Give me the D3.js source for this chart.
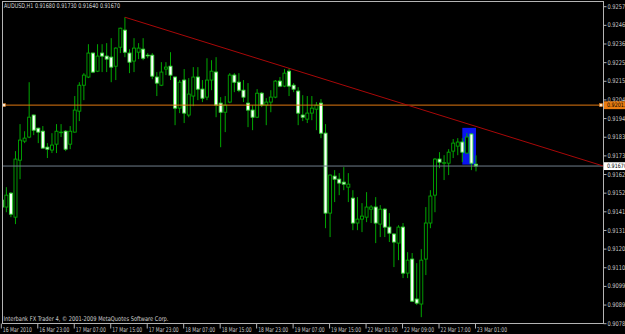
<!DOCTYPE html>
<html>
<head>
<meta charset="utf-8">
<script src="https://cdn.jsdelivr.net/npm/d3@7"></script>
<style>
    body { margin: 0; background: #000; }
    #chart-area { width: 625px; height: 334px; }
</style>
</head>
<body>
<div id="chart-area"></div>
<script>

// hourly bars, index 0 = 16 Mar 15:00
const timeLabels = ["16 Mar 2010", "16 Mar 23:00", "17 Mar 07:00", "17 Mar 15:00", "17 Mar 23:00", "18 Mar 07:00",
    "18 Mar 15:00", "18 Mar 23:00", "19 Mar 07:00", "19 Mar 15:00", "22 Mar 01:00", "22 Mar 09:00", "22 Mar 17:00", "23 Mar 01:00"];
const labelBars = [0, 8, 16, 24, 32, 40, 48, 56, 64, 72, 80, 88, 96, 104];

const priceTicks = [0.92570, 0.92465, 0.92360, 0.92255, 0.92150, 0.92045, 0.91940, 0.91835, 0.91730,
    0.91625, 0.91520, 0.91415, 0.91310, 0.91205, 0.91100, 0.90995, 0.90890, 0.90785];

const opens = [0.91478, 0.91439, 0.91517, 0.91382, 0.91703, 0.91810, 0.91833, 0.91957, 0.91883, 0.91866,
    0.91776, 0.91760, 0.91793, 0.91858, 0.91866, 0.91793, 0.91861, 0.91979, 0.92125, 0.92171,
    0.92306, 0.92204, 0.92306, 0.92289, 0.92283, 0.92232, 0.92339, 0.92435, 0.92306, 0.92261,
    0.92311, 0.92328, 0.92294, 0.92294, 0.92171, 0.92125, 0.92216, 0.92232, 0.92171, 0.91996,
    0.92154, 0.91957, 0.92064, 0.92171, 0.92103, 0.92058, 0.92154, 0.92199, 0.92024, 0.91973,
    0.92030, 0.92182, 0.92142, 0.92097, 0.92024, 0.91985, 0.91945, 0.92080, 0.92013, 0.92030,
    0.92058, 0.92148, 0.92120, 0.92204, 0.92125, 0.92092, 0.91957, 0.91934, 0.91968, 0.91990,
    0.92024, 0.91855, 0.91405, 0.91613, 0.91596, 0.91579, 0.91551, 0.91489, 0.91349, 0.91371,
    0.91382, 0.91427, 0.91439, 0.91343, 0.91427, 0.91326, 0.91287, 0.91236, 0.91326, 0.91067,
    0.91146, 0.90921, 0.90893, 0.91146, 0.91349, 0.91506, 0.91709, 0.91686, 0.91686, 0.91754,
    0.91782, 0.91805, 0.91743, 0.91850, 0.91680];
const highs = [0.91523, 0.91551, 0.91523, 0.91754, 0.91906, 0.91866, 0.92142, 0.91960, 0.91886, 0.91895,
    0.91799, 0.91855, 0.91906, 0.91906, 0.91872, 0.91895, 0.92064, 0.92142, 0.92193, 0.92356,
    0.92309, 0.92356, 0.92356, 0.92362, 0.92390, 0.92339, 0.92449, 0.92508, 0.92328, 0.92390,
    0.92362, 0.92390, 0.92306, 0.92306, 0.92199, 0.92255, 0.92255, 0.92311, 0.92174, 0.92154,
    0.92216, 0.92165, 0.92227, 0.92227, 0.92154, 0.92277, 0.92266, 0.92283, 0.92058, 0.92064,
    0.92193, 0.92193, 0.92193, 0.92154, 0.92137, 0.92013, 0.92103, 0.92086, 0.92052, 0.92097,
    0.92154, 0.92171, 0.92216, 0.92221, 0.92137, 0.92114, 0.92069, 0.92064, 0.92064, 0.92030,
    0.92047, 0.91906, 0.91622, 0.91647, 0.91630, 0.91664, 0.91630, 0.91534, 0.91495, 0.91461,
    0.91523, 0.91450, 0.91495, 0.91450, 0.91433, 0.91405, 0.91292, 0.91337, 0.91349, 0.91185,
    0.91180, 0.91123, 0.91202, 0.91439, 0.91534, 0.91715, 0.91748, 0.91731, 0.91765, 0.91822,
    0.91827, 0.91827, 0.91855, 0.91855, 0.91730];
const lows = [0.91315, 0.91410, 0.91382, 0.91343, 0.91596, 0.91799, 0.91827, 0.91844, 0.91799, 0.91768,
    0.91715, 0.91743, 0.91743, 0.91833, 0.91754, 0.91765, 0.91858, 0.91923, 0.92041, 0.92165,
    0.92193, 0.92199, 0.92199, 0.92199, 0.92142, 0.92154, 0.92306, 0.92283, 0.92193, 0.92199,
    0.92272, 0.92266, 0.92277, 0.92159, 0.92064, 0.92120, 0.92182, 0.92154, 0.91900, 0.91968,
    0.91912, 0.91945, 0.92007, 0.92041, 0.92030, 0.92041, 0.92097, 0.91945, 0.91776, 0.91861,
    0.92024, 0.92086, 0.92086, 0.92030, 0.91889, 0.91872, 0.91940, 0.92002, 0.91900, 0.91973,
    0.92052, 0.92114, 0.92114, 0.92064, 0.92086, 0.91900, 0.91923, 0.91912, 0.91928, 0.91872,
    0.91827, 0.91320, 0.91270, 0.91467, 0.91506, 0.91534, 0.91467, 0.91309, 0.91309, 0.91298,
    0.91354, 0.91349, 0.91236, 0.91270, 0.91270, 0.91242, 0.91101, 0.91140, 0.91039, 0.91039,
    0.90904, 0.90887, 0.90819, 0.91056, 0.91320, 0.91410, 0.91658, 0.91591, 0.91619, 0.91715,
    0.91731, 0.91692, 0.91740, 0.91647, 0.91640];
const closes = [0.91439, 0.91506, 0.91399, 0.91709, 0.91816, 0.91827, 0.91945, 0.91872, 0.91861, 0.91771,
    0.91765, 0.91788, 0.91866, 0.91861, 0.91765, 0.91866, 0.91985, 0.92125, 0.92182, 0.92306,
    0.92199, 0.92289, 0.92289, 0.92272, 0.92227, 0.92334, 0.92446, 0.92311, 0.92255, 0.92334,
    0.92334, 0.92277, 0.92293, 0.92176, 0.92137, 0.92199, 0.92227, 0.92182, 0.91996, 0.92142,
    0.91968, 0.92075, 0.92171, 0.92103, 0.92052, 0.92154, 0.92204, 0.92013, 0.91973, 0.92013,
    0.92182, 0.92142, 0.92097, 0.92058, 0.91985, 0.91945, 0.92080, 0.92013, 0.92030, 0.92058,
    0.92148, 0.92120, 0.92193, 0.92120, 0.92103, 0.91968, 0.91945, 0.91968, 0.91996, 0.92013,
    0.91855, 0.91405, 0.91619, 0.91596, 0.91574, 0.91568, 0.91568, 0.91349, 0.91371, 0.91388,
    0.91439, 0.91439, 0.91349, 0.91427, 0.91326, 0.91292, 0.91242, 0.91326, 0.91067, 0.91140,
    0.90909, 0.90898, 0.91140, 0.91349, 0.91501, 0.91709, 0.91692, 0.91689, 0.91748, 0.91799,
    0.91805, 0.91748, 0.91833, 0.91686, 0.91670];

// chart objects
const trendBars = [27, 104];
const trendPrices = [0.92508, 0.91893];
const hlinePrice = 0.92013;
const bidPrice = 0.91670;
const boxBars = [101, 104];
const boxPrices = [0.91885, 0.91678];

const titleText = "AUDUSD,H1  0.91680 0.91730 0.91640 0.91670";
const footerText = "Interbank FX Trader 4, \u00a9 2001-2009 MetaQuotes Software Corp.";

class CandleChart {

    constructor(parentElement) {
        this.parentElement = parentElement;
        this.initVis();
    }

    initVis() {
        let vis = this;

        vis.width = 625;
        vis.height = 334;
        vis.plot = {left: 2, right: 603, top: 1, bottom: 323};
        vis.font = "'DejaVu Sans Condensed', 'DejaVu Sans', sans-serif";

        vis.svg = d3.select("#" + vis.parentElement).append("svg")
            .attr("width", vis.width)
            .attr("height", vis.height);

        vis.svg.append("rect")
            .attr("width", vis.width)
            .attr("height", vis.height)
            .attr("fill", "#000");

        vis.svg.append("clipPath").attr("id", "plot-clip")
            .append("rect")
            .attr("x", vis.plot.left)
            .attr("y", vis.plot.top)
            .attr("width", vis.plot.right - vis.plot.left)
            .attr("height", vis.plot.bottom - vis.plot.top);

        // bar index -> x, price -> y
        vis.x = d3.scaleLinear()
            .domain([0, 104])
            .range([1.8, 476]);

        vis.y = d3.scaleLinear()
            .domain([0.90785, 0.92570])
            .range([323.2, 6.2]);

        vis.yAxis = d3.axisRight(vis.y)
            .tickValues(priceTicks)
            .tickFormat(d3.format(".5f"))
            .tickSize(3)
            .tickSizeOuter(0);

        vis.xAxis = d3.axisBottom(vis.x)
            .tickValues(labelBars)
            .tickFormat((d, i) => timeLabels[i])
            .tickSize(5)
            .tickSizeOuter(0);

        vis.chart = vis.svg.append("g").attr("clip-path", "url(#plot-clip)");

        vis.wrangleData();
    }

    wrangleData() {
        let vis = this;

        vis.bars = opens.map((o, i) => ({
            i: i, open: o, high: highs[i], low: lows[i], close: closes[i]
        }));

        // extend trendline as a ray to the right edge
        let endBar = vis.x.invert(vis.plot.right);
        let slope = (trendPrices[1] - trendPrices[0]) / (trendBars[1] - trendBars[0]);
        vis.trend = [
            {bar: trendBars[0], price: trendPrices[0]},
            {bar: endBar, price: trendPrices[0] + (endBar - trendBars[0]) * slope}
        ];

        vis.updateVis();
    }

    updateVis() {
        let vis = this;

        // background rectangle object
        vis.chart.append("rect")
            .attr("x", vis.x(boxBars[0]))
            .attr("y", vis.y(boxPrices[0]))
            .attr("width", vis.x(boxBars[1]) - vis.x(boxBars[0]))
            .attr("height", vis.y(boxPrices[1]) - vis.y(boxPrices[0]))
            .attr("fill", "#0a14f0");

        let candles = vis.chart.append("g").selectAll(".candle")
            .data(vis.bars)
            .enter()
            .append("g")
            .attr("class", "candle");

        candles.append("line")
            .attr("x1", d => vis.x(d.i))
            .attr("x2", d => vis.x(d.i))
            .attr("y1", d => vis.y(d.high))
            .attr("y2", d => vis.y(d.low))
            .attr("stroke", "#00a800")
            .attr("stroke-width", 1);

        candles.append("rect")
            .attr("x", d => vis.x(d.i) - 1.5)
            .attr("width", 3)
            .attr("y", d => vis.y(Math.max(d.open, d.close)))
            .attr("height", d => Math.max(0.6, Math.abs(vis.y(d.open) - vis.y(d.close))))
            .attr("fill", d => d.close > d.open ? "#000" : "#fff")
            .attr("stroke", d => d.close > d.open ? "#00a800" : "#3ee03e")
            .attr("stroke-width", 0.9);

        // horizontal line (selected)
        vis.chart.append("line")
            .attr("x1", vis.plot.left)
            .attr("x2", vis.plot.right)
            .attr("y1", vis.y(hlinePrice))
            .attr("y2", vis.y(hlinePrice))
            .attr("stroke", "#e07810")
            .attr("stroke-width", 1);

        // bid line
        vis.chart.append("line")
            .attr("x1", vis.plot.left)
            .attr("x2", vis.plot.right)
            .attr("y1", vis.y(bidPrice))
            .attr("y2", vis.y(bidPrice))
            .attr("stroke", "#6f7f8c")
            .attr("stroke-width", 1);

        vis.chart.append("line")
            .attr("x1", vis.x(vis.trend[0].bar))
            .attr("y1", vis.y(vis.trend[0].price))
            .attr("x2", vis.x(vis.trend[1].bar))
            .attr("y2", vis.y(vis.trend[1].price))
            .attr("stroke", "#a80808")
            .attr("stroke-width", 1);

        // selection handles of the horizontal line
        [vis.plot.left + 0.5, vis.plot.right - 3.5].forEach(px => {
            vis.svg.append("rect")
                .attr("x", px)
                .attr("y", vis.y(hlinePrice) - 1.5)
                .attr("width", 3)
                .attr("height", 3)
                .attr("fill", "#ffe6c8")
                .attr("stroke", "#e07810")
                .attr("stroke-width", 0.5);
        });

        // frame
        vis.svg.append("rect")
            .attr("x", vis.plot.left + 0.5)
            .attr("y", vis.plot.top + 0.5)
            .attr("width", vis.plot.right - vis.plot.left)
            .attr("height", vis.plot.bottom - vis.plot.top)
            .attr("fill", "none")
            .attr("stroke", "#b4b4b4")
            .attr("stroke-width", 1);

        // price scale
        let ya = vis.svg.append("g")
            .attr("class", "y-axis axis")
            .attr("transform", "translate(" + (vis.plot.right + 0.5) + ",0)")
            .call(vis.yAxis);
        ya.select(".domain").remove();
        ya.selectAll("line").attr("stroke", "#b4b4b4");
        ya.selectAll("text")
            .attr("x", 4)
            .attr("fill", "#c8c8c8")
            .attr("font-family", vis.font)
            .attr("font-size", "6.5px")
            .attr("textLength", 21)
            .attr("lengthAdjust", "spacingAndGlyphs");

        // time scale
        let xa = vis.svg.append("g")
            .attr("class", "x-axis axis")
            .attr("transform", "translate(-1," + (vis.plot.bottom + 0.5) + ")")
            .call(vis.xAxis);
        xa.select(".domain").remove();
        xa.selectAll("line").attr("stroke", "#b4b4b4");
        xa.selectAll("text")
            .attr("text-anchor", "start")
            .attr("x", 1.5)
            .attr("y", 8.3)
            .attr("dy", 0)
            .attr("fill", "#c8c8c8")
            .attr("font-family", vis.font)
            .attr("font-size", "6.5px")
            .attr("textLength", (d, i) => i === 0 ? 29 : 30)
            .attr("lengthAdjust", "spacingAndGlyphs");

        // price tags for the two horizontal lines
        [{price: hlinePrice, bg: "#e87c10"}, {price: bidPrice, bg: "#ffffff"}].forEach(tag => {
            vis.svg.append("rect")
                .attr("x", vis.plot.right + 1)
                .attr("y", vis.y(tag.price) - 3.8)
                .attr("width", 24)
                .attr("height", 7.8)
                .attr("fill", tag.bg);
            vis.svg.append("text")
                .attr("x", vis.plot.right + 4)
                .attr("y", vis.y(tag.price) + 2.2)
                .attr("fill", "#000")
                .attr("font-family", vis.font)
                .attr("font-size", "6px")
                .attr("textLength", 20)
                .attr("lengthAdjust", "spacingAndGlyphs")
                .text(d3.format(".5f")(tag.price));
        });

        vis.svg.append("text")
            .attr("x", 4)
            .attr("y", 8.2)
            .attr("fill", "#d8d8d8")
            .attr("font-family", vis.font)
            .attr("font-size", "6.5px")
            .attr("textLength", 116)
            .attr("lengthAdjust", "spacingAndGlyphs")
            .text(titleText);

        vis.svg.append("text")
            .attr("x", 3.5)
            .attr("y", 321.3)
            .attr("fill", "#d0d0d0")
            .attr("font-family", vis.font)
            .attr("font-size", "6.5px")
            .attr("textLength", 165)
            .attr("lengthAdjust", "spacingAndGlyphs")
            .text(footerText);
    }
}

let chart = new CandleChart("chart-area");
</script>
</body>
</html>
